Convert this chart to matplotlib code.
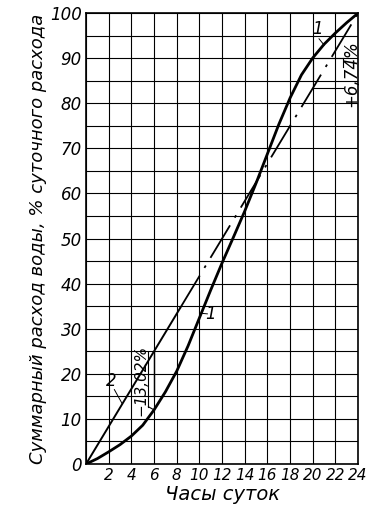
import numpy as np
import matplotlib
matplotlib.use("Agg")
import matplotlib.pyplot as plt

plt.rcParams['font.family'] = ['Liberation Sans Narrow', 'DejaVu Sans']

# hourly cumulative water consumption, % of daily total (curve 1)
hours = [0, 1, 2, 3, 4, 5, 6, 7, 8, 9, 10, 11, 12, 13, 14, 15, 16, 17, 18, 19, 20, 21, 22, 23, 24]
cum_pct = [0, 1.2, 2.7, 4.3, 6.2, 8.6, 12.0, 16.0, 20.6, 26.2, 32.4, 38.6, 44.6, 50.3,
           56.1, 62.3, 68.8, 75.3, 81.2, 86.3, 90.07, 93.1, 95.6, 97.9, 100]

# uniform supply line (line 2)
uniform_hours = [0, 24]
uniform_pct = [0, 100]

x_ticks = [2, 4, 6, 8, 10, 12, 14, 16, 18, 20, 22, 24]
y_ticks = [0, 10, 20, 30, 40, 50, 60, 70, 80, 90, 100]

deficit_hour = 6     # -13,02 %
surplus_hour = 20    # +6,74 %

fig = plt.figure(figsize=(3.79, 5.13), dpi=100)
ax = fig.add_axes([0.227, 0.0955, 0.718, 0.879])

ax.set_xlim(0, 24)
ax.set_ylim(0, 100)
ax.set_xticks(np.arange(0, 25, 2))
ax.set_yticks(np.arange(0, 101, 5))
ax.grid(True, color='black', lw=0.8)
ax.set_axisbelow(True)
ax.tick_params(length=0, pad=3)
ax.set_xticklabels([''] + [str(t) for t in x_ticks], fontsize=11, style='italic')
ax.set_yticklabels([str(v) if v in y_ticks else '' for v in range(0, 101, 5)],
                   fontsize=12, style='italic')
for s in ax.spines.values():
    s.set_linewidth(1.2)

# curve 1
ax.plot(hours, cum_pct, color='black', lw=2.0, zorder=4, solid_joinstyle='round')

# line 2: solid at the start, dash-dot afterwards
u = lambda h: np.interp(h, uniform_hours, uniform_pct)
ax.plot([0, 8.3], [0, u(8.3)], color='black', lw=1.4, zorder=4)
ax.plot([8.3, 24], [u(8.3), 100], color='black', lw=1.3,
        linestyle=(0, (21, 5, 1.5, 5)), zorder=4)

# deficit at 6 h
c6 = np.interp(deficit_hour, hours, cum_pct)
ax.plot([deficit_hour, deficit_hour], [c6 + 3, u(deficit_hour)], color='black', lw=1.0)
ax.plot([5.5, 5.5], [c6 + 0.7, u(deficit_hour) - 0.2], color='black', lw=0.8)
ax.plot([5.5, deficit_hour], [c6 + 0.7, c6], color='black', lw=0.8)
ax.text(4.8, (c6 + u(deficit_hour)) / 2, '−13,02%', rotation=90, ha='center', va='center',
        fontsize=11, style='italic')

# surplus at 20 h
c20 = np.interp(surplus_hour, hours, cum_pct)
ax.plot([surplus_hour, 22.7], [c20, c20], color='black', lw=0.8)
ax.plot([surplus_hour, 22.7], [u(surplus_hour), u(surplus_hour)], color='black', lw=0.8)
ax.plot([surplus_hour, surplus_hour], [u(surplus_hour), c20], color='black', lw=0.8)
ax.plot([22.7, 22.7], [c20, c20 - 2], color='black', lw=0.8)
ax.text(23.4, 86.5, '+6,74%', rotation=90, ha='center', va='center',
        fontsize=12, style='italic')

# curve labels
ax.text(2.2, 18.5, '2', fontsize=12, style='italic', ha='center', va='center')
ax.plot([2.5, 3.2], [16.5, u(3.2)], color='black', lw=0.7)
ax.text(20.4, 96.5, '1', fontsize=12, style='italic', ha='center', va='center')
ax.plot([20.55, 21.0], [94.3, 92.9], color='black', lw=0.7)
ax.text(11.0, 33.2, '1', fontsize=12, style='italic', ha='center', va='center')
ax.plot([10.25, 10.7], [33.4, 33.3], color='black', lw=0.7)

ax.set_xlabel('Часы суток', fontsize=14, style='italic', labelpad=1)
ax.set_ylabel('Суммарный расход воды, % суточного расхода', fontsize=13,
              style='italic', labelpad=2)

fig.savefig('out.png', dpi=100)
